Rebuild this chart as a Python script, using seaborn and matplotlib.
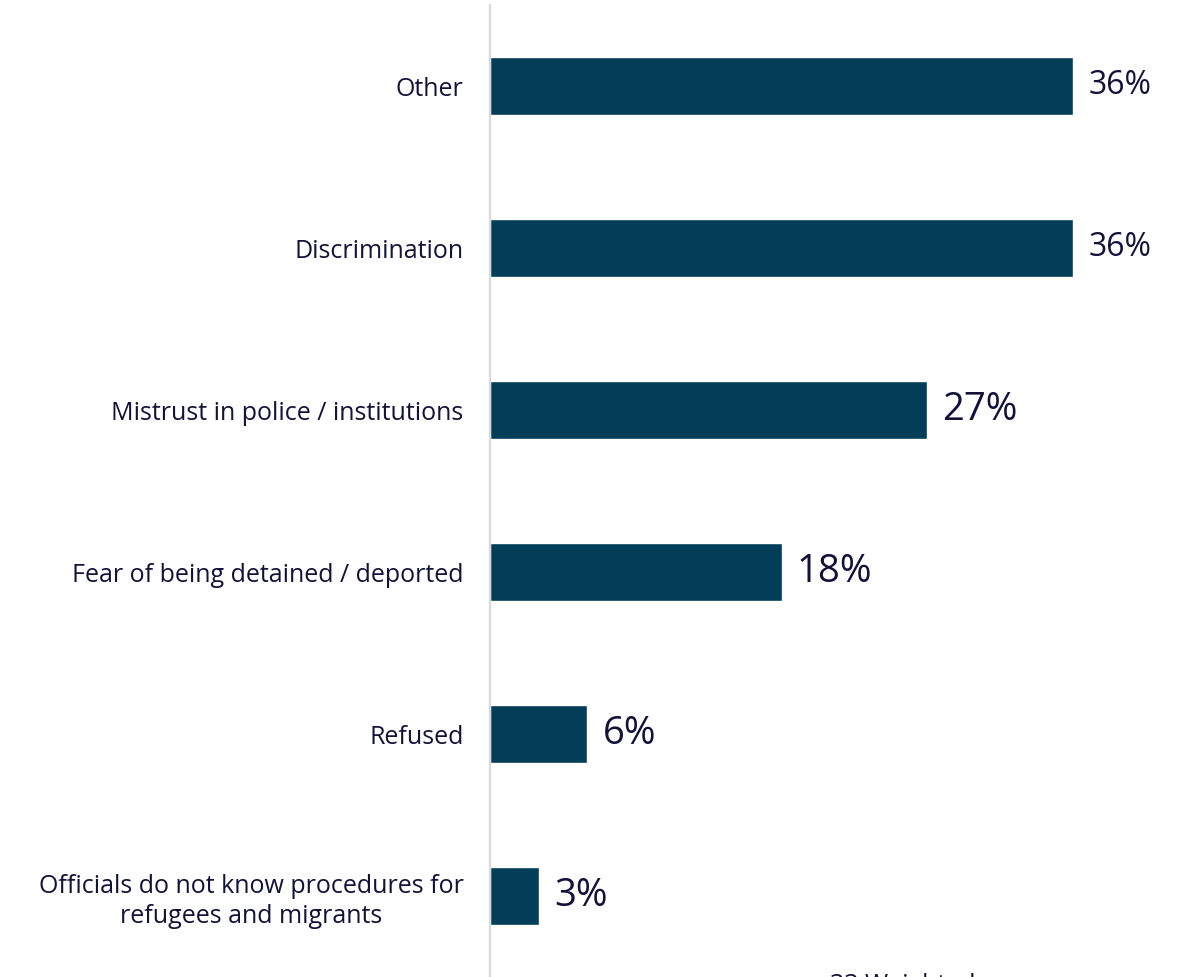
import matplotlib.pyplot as plt
import pandas as pd
import seaborn as sns

# Data
reasons = [
    "Other",
    "Discrimination",
    "Mistrust in police / institutions",
    "Fear of being detained / deported",
    "Refused",
    "Officials do not know procedures for\nrefugees and migrants",
]
shares = [36, 36, 27, 18, 6, 3]
note = "33 Weighted responses"

df = pd.DataFrame({"reason": reasons, "share": shares})

sns.set_style("white")
plt.rcParams["font.family"] = ["Open Sans", "DejaVu Sans"]

bar_color = "#023e58"
text_color = "#12123a"

fig = plt.figure(figsize=(11.86, 9.77), dpi=100)
ax = fig.add_axes([490 / 1186, 0.0, 696 / 1186, 1 - 5 / 977])

sns.barplot(data=df, y="reason", x="share", orient="h", color=bar_color,
            width=0.36, saturation=1, ax=ax)

ax.set_xlim(0, 36 * 696 / 583)
ax.set_ylim(5.5, -0.5)
ax.set_xlabel("")
ax.set_ylabel("")
ax.set_xticks([])

for side in ["top", "right", "bottom"]:
    ax.spines[side].set_visible(False)
ax.spines["left"].set_color("#d9d9d9")
ax.spines["left"].set_linewidth(1.6)

ax.tick_params(axis="y", length=0, pad=19, labelsize=18, labelcolor=text_color)
for lbl in ax.get_yticklabels():
    lbl.set_multialignment("center")
    lbl.set_linespacing(1.25)

top = max(shares)
for i, v in enumerate(shares):
    ax.annotate(f"{v}%", xy=(v, i), xytext=(11, 0), textcoords="offset points",
                va="center", ha="left", color=text_color,
                fontsize=23 if v == top else 27.5)

fig.text(830 / 1186, -0.0155, note, ha="left", va="baseline",
         fontsize=18, color=text_color)

fig.savefig("out.png", dpi=100)
